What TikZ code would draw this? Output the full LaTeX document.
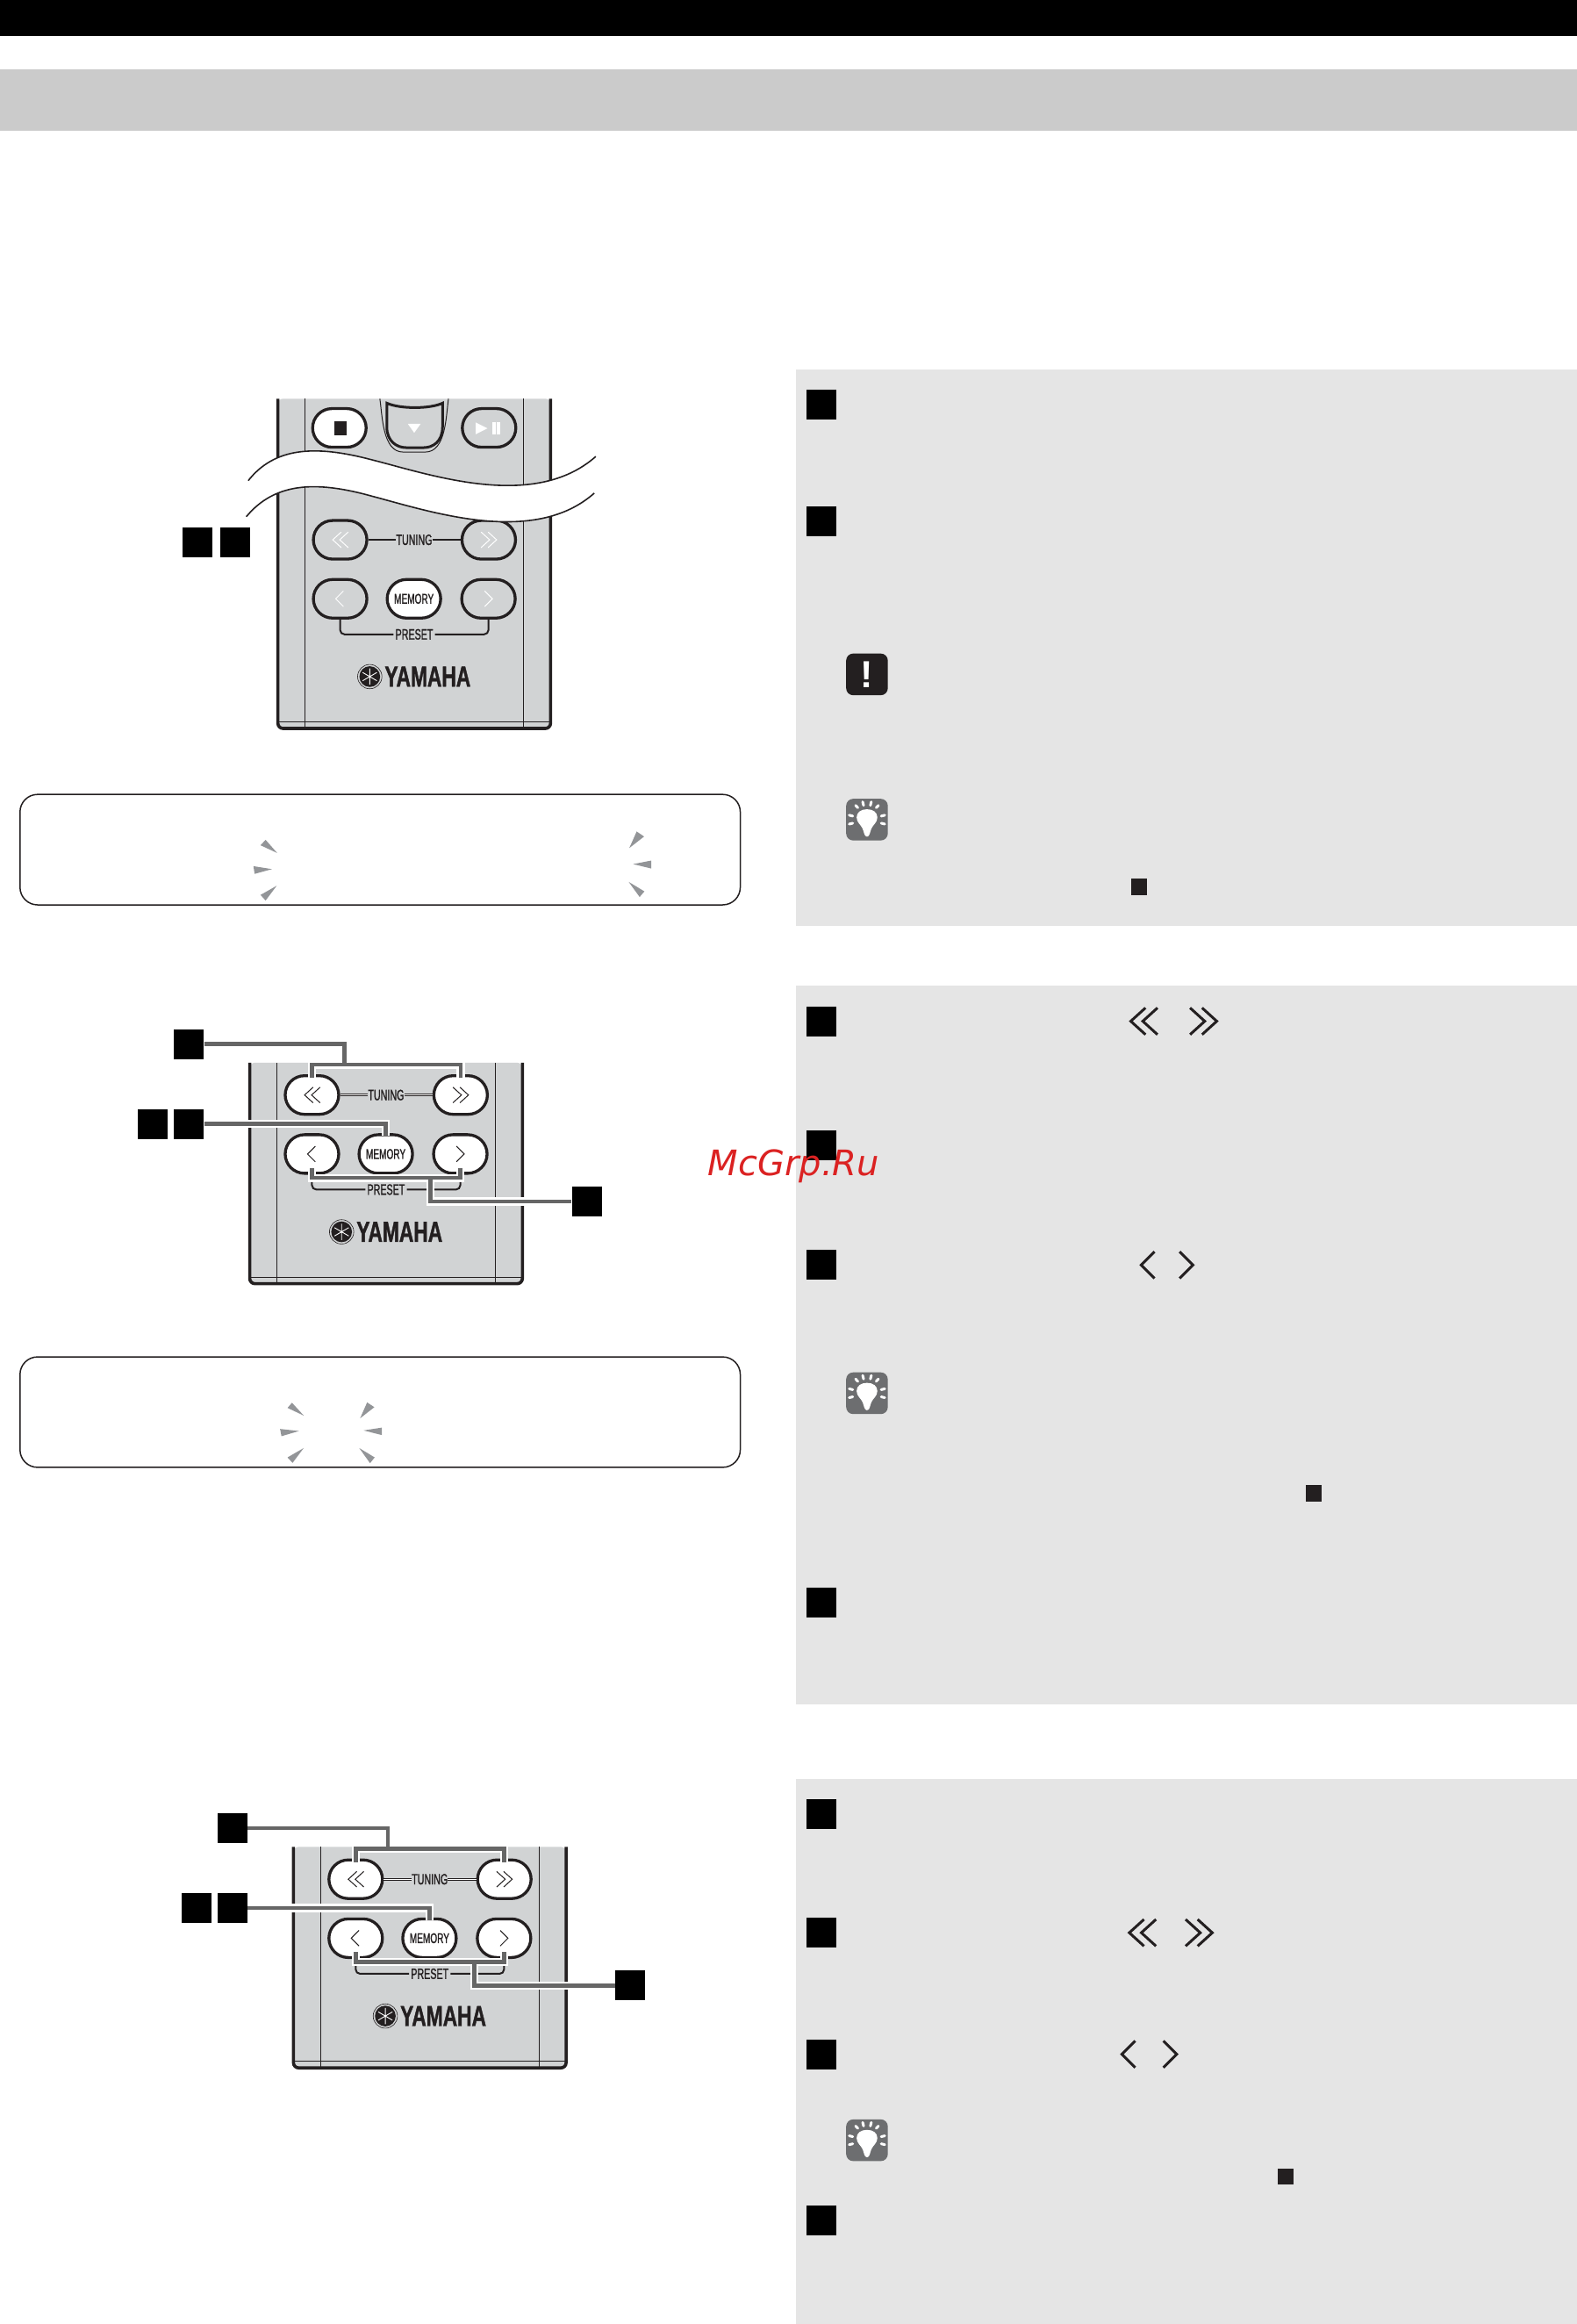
\documentclass[tikz,border=0pt]{standalone}
\usepackage{fontspec}
\setmainfont{Liberation Sans}
\newfontfamily\keyfont[FakeStretch=0.63,FakeBold=1.2]{Liberation Sans}
\newfontfamily\brandfont[FakeStretch=0.69,FakeBold=1.2]{Liberation Sans}
\newfontfamily\markfont{DejaVu Sans}
\definecolor{bandgray}{HTML}{CBCBCB}
\definecolor{panelgray}{HTML}{E5E5E5}
\definecolor{bodygray}{HTML}{D1D3D4}
\definecolor{inkdark}{HTML}{231F20}
\definecolor{flashgray}{HTML}{939598}
\definecolor{tipgray}{HTML}{6D6E70}
\definecolor{leadgray}{HTML}{666666}
\definecolor{markred}{HTML}{DB2222}
\tikzset{
  panel/.style={fill=panelgray},
  dispbox/.style={draw=inkdark,line width=1.5pt,rounded corners=20pt},
  flash/.style={fill=flashgray},
  stepsq/.style={fill=black,inner sep=0pt,minimum width=34pt,minimum height=34pt},
  smallsq/.style={fill=inkdark,inner sep=0pt,minimum size=18.5pt},
  warnbox/.style={fill=inkdark,text=white,inner sep=0pt,minimum size=47.5pt,rounded corners=8pt,font=\fontsize{43}{43}\selectfont\bfseries},
  tipbox/.style={fill=tipgray,inner sep=0pt,minimum size=47.5pt,rounded corners=8pt},
  casing/.style={draw=inkdark,line width=3.6pt,line join=round},
  rule/.style={draw=inkdark,line width=1pt},
  rkey/.style={draw=inkdark,fill=bodygray,line width=3.3pt,inner sep=0pt,minimum width=61pt,minimum height=44pt,rounded corners=22pt},
  whitekey/.style={rkey,fill=white},
  chev/.style={draw=white,line width=1pt},
  keyband/.style={draw=inkdark,line width=2pt},
  tunband/.style={keyband},
  keytext/.style={inner sep=0pt,text=inkdark,font=\fontsize{17}{17}\selectfont\keyfont},
  stepmark/.style={draw=inkdark,line width=3pt,scale=18},
  lead/.style={draw=leadgray,line width=4.4pt,preaction={draw=white,line width=9.5pt}},
  wave/.style={draw=inkdark,line width=1.6pt},
  pics/dblleft/.style={code={
    \draw[pic actions] (.55,-.5) -- (0,0) -- (.55,.5);
    \draw[pic actions] (1,-.5) -- (.45,0) -- (1,.5);}},
  pics/dblright/.style={code={
    \draw[pic actions] (.45,-.5) -- (1,0) -- (.45,.5);
    \draw[pic actions] (0,-.5) -- (.55,0) -- (0,.5);}},
  pics/sglleft/.style={code={\draw[pic actions] (.5,-.5) -- (0,0) -- (.5,.5);}},
  pics/sglright/.style={code={\draw[pic actions] (0,-.5) -- (.5,0) -- (0,.5);}},
  pics/bulb/.style={code={
    \fill[white] (0,11.5) .. controls (-2,11.5) and (-2,8) .. (-3,6)
      .. controls (-4,3.5) and (-7,2) .. (-7,-1.5)
      .. controls (-7,-5) and (-4,-7) .. (0,-7)
      .. controls (4,-7) and (7,-5) .. (7,-1.5)
      .. controls (7,2) and (4,3.5) .. (3,6)
      .. controls (2,8) and (2,11.5) .. (0,11.5) -- cycle;
    \draw[white,line width=3pt,line cap=round]
      (-2.9,-12) -- (-2.3,-9.6) (2.9,-12) -- (2.3,-9.6)
      (-7.7,-9.6) -- (-6.2,-8) (7.7,-9.6) -- (6.2,-8)
      (-12,-3) -- (-9.6,-2.4) (12,-3) -- (9.6,-2.4)
      (-12,3) -- (-9.6,2.4) (12,3) -- (9.6,2.4);}}
}
% lower half of the handset, #1 = top edge of the casing
\newcommand{\handset}[1]{
  \fill[bodygray,rounded corners=6pt] (187.5,#1) -- (187.5,491.5) -- (371.5,491.5) -- (371.5,#1) -- cycle;
  \draw[rule] (206,#1) -- (206,491.5);
  \draw[rule] (353.5,#1) -- (353.5,491.5);
  \draw[rule] (187.5,487) -- (371.5,487);
  \draw[casing,rounded corners=6pt] (187.5,#1) -- (187.5,491.5) -- (371.5,491.5) -- (371.5,#1);
  \node[rkey] (tunl) at (229.5,364.2) {};
  \node[rkey] (tunr) at (329.8,364.2) {};
  \node[rkey] (prel) at (229.5,404) {};
  \node[whitekey] (memo) at (279.3,404) {};
  \node[rkey] (prer) at (329.6,404) {};
  \node[keytext] (tuntext) at (279.5,364.2) {TUNING};
  \node[keytext] (pretext) at (279.5,428) {PRESET};
  \node[keytext,font=\fontsize{16}{16}\selectfont\keyfont] (memtext) at (279.3,404) {MEMORY};
  \draw[tunband] (tunl) -- (tuntext);
  \draw[tunband] (tuntext) -- (tunr);
  \draw[keyband,rounded corners=5pt] (prel.south) |- ([xshift=-2pt]pretext.west);
  \draw[keyband,rounded corners=5pt] (prer.south) |- ([xshift=2pt]pretext.east);
  \pic[chev,scale=10.5] at (224.5,364.2) {dblleft};
  \pic[chev,scale=10.5] at (324.6,364.2) {dblright};
  \pic[chev,scale=10.5] at (226.5,404) {sglleft};
  \pic[chev,scale=10.5] at (327,404) {sglright};
  \fill[inkdark] (249.5,456.5) circle (7);
  \draw[inkdark,line width=.6pt] (249.5,456.5) circle (8.2);
  \draw[white,line width=.9pt] (249.5,451) -- (249.5,462) (244.7,453.7) -- (254.3,459.3) (244.7,459.3) -- (254.3,453.7);
  \node[inner sep=0pt,text=inkdark,font=\fontsize{33}{33}\selectfont\brandfont\bfseries,anchor=west] (brand) at (259.5,456.5) {YAMAHA};
}
% squares and their leaders for the two lower handsets
\newcommand{\leads}{
  \coordinate (forka) at (232.3,718.3);
  \coordinate (forkb) at (290.5,794.8);
  \node[stepsq] (sqa) at (127.5,704.4) {};
  \node[stepsq] (sqb) at (103.1,758.3) {};
  \node[stepsq] (sqc) at (127.5,758.3) {};
  \node[stepsq] (sqd) at (395.9,810.6) {};
  \draw[lead] (sqa) -| (forka)
    ([yshift=-4pt]tunl.north) |- (forka) -| ([yshift=-4pt]tunr.north)
    (sqc) -| ([yshift=-3pt]memo.north)
    ([yshift=8pt]prel.south) |- (forkb) -| ([yshift=8pt]prer.south)
    (forkb) |- (sqd);
}
\begin{document}
\begin{tikzpicture}[x=1.6889pt,y=-1.6889pt]
\useasboundingbox (0,0) rectangle (1064,1568);
% page bands
\fill[black] (0,0) rectangle (1064,24);
\fill[bandgray] (0,47) rectangle (1064,88);
\fill[panel] (537,249) rectangle (1064,625);
\fill[panel] (537,665) rectangle (1064,1150);
\fill[panel] (537,1200) rectangle (1064,1568);
% display boxes
\draw[dispbox] (13.5,536) rectangle (499.5,610.5);
\draw[dispbox] (13.5,915.5) rectangle (499.5,990);
\fill[flash] (175.8,570.3) -- (179.2,566.6) -- (187,575.5) -- cycle;
\fill[flash] (171,584.4) -- (171.8,589.6) -- (183.5,586.4) -- cycle;
\fill[flash] (175.8,603.8) -- (179.2,607.6) -- (186.7,597.6) -- cycle;
\fill[flash] (429.6,561) -- (434.6,564.4) -- (424.6,572.2) -- cycle;
\fill[flash] (439.5,580.6) -- (439.5,586) -- (427.2,583) -- cycle;
\fill[flash] (424.2,595) -- (434.8,601.4) -- (431.6,605.2) -- cycle;
\fill[flash] (194,949.9) -- (197,946.4) -- (205,955.1) -- cycle;
\fill[flash] (189,964.1) -- (189.9,969) -- (201.7,965.5) -- cycle;
\fill[flash] (194,983.3) -- (197.4,987) -- (204.9,977) -- cycle;
\fill[flash] (247.7,946.2) -- (252.6,949.4) -- (243,956.9) -- cycle;
\fill[flash] (257.6,963.2) -- (257.6,968.2) -- (245.3,965.1) -- cycle;
\fill[flash] (242.4,977) -- (252.8,983.3) -- (249.7,987.2) -- cycle;
% top handset
\handset{269}
\node[whitekey] (stopkey) at (229,288.7) {};
\node[rkey] (playkey) at (330,288.7) {};
\draw[inkdark,line width=1pt] (256.3,269) .. controls (258,280) and (258,305) .. (272,305) -- (287,305) .. controls (301,305) and (301,280) .. (302.6,269);
\draw[inkdark,fill=bodygray,line width=3pt] (261,272) .. controls (270,276) and (290,276) .. (298.6,272) -- (298.6,288) .. controls (298.6,298) and (292,302) .. (286,302) -- (274,302) .. controls (268,302) and (261,298) .. (261,288) -- cycle;
\fill[white] (275.2,286) -- (283.8,286) -- (279.5,292) -- cycle;
\fill[inkdark] (225.6,284.5) rectangle (234,293.5);
\fill[white] (321,285) -- (329,289) -- (321,293) -- cycle;
\fill[white] (332.4,285) rectangle (334.5,293);
\fill[white] (335.4,285) rectangle (337.5,293);
\fill[white] (167.5,324.3) .. controls (185,302) and (212,300) .. (250,310) .. controls (290,320) and (360,345) .. (402,308) -- (401,332.7) .. controls (360,369) and (290,345) .. (250,334.5) .. controls (212,324) and (185,326) .. (166.2,348.6) -- cycle;
\draw[wave] (167.5,324.3) .. controls (185,302) and (212,300) .. (250,310) .. controls (290,320) and (360,345) .. (402,308);
\draw[wave] (166.2,348.6) .. controls (185,326) and (212,324) .. (250,334.5) .. controls (290,345) and (360,369) .. (401,332.7);
\node[stepsq] (sqe) at (133.5,366) {};
\node[stepsq] (sqf) at (158.5,366) {};
% second handset
\begin{scope}[shift={(-19,374.6)},name prefix=mid-,rkey/.append style={fill=white},chev/.append style={draw=inkdark},tunband/.append style={double=white,double distance=1.2pt,line width=.9pt}]
\handset{342.4}
\end{scope}
\begin{scope}[name prefix=mid-]
\leads
\end{scope}
% third handset
\begin{scope}[shift={(10.5,903.7)},name prefix=low-,rkey/.append style={fill=white},chev/.append style={draw=inkdark},tunband/.append style={double=white,double distance=1.2pt,line width=.9pt}]
\handset{342.4}
\end{scope}
\begin{scope}[shift={(29.5,529)},name prefix=low-]
\leads
\end{scope}
% step squares in the panels
\node[stepsq] (stepa) at (554,273) {};
\node[stepsq] (stepb) at (554,352) {};
\node[stepsq] (stepc) at (554,689) {};
\node[stepsq] (stepd) at (554,773) {};
\node[stepsq] (stepe) at (554,853) {};
\node[stepsq] (stepf) at (554,1081) {};
\node[stepsq] (stepg) at (554,1224) {};
\node[stepsq] (steph) at (554,1304) {};
\node[stepsq] (stepi) at (554,1386) {};
\node[stepsq] (stepj) at (554,1498) {};
\node[smallsq] (enda) at (768.5,598.5) {};
\node[smallsq] (endb) at (886.5,1007.5) {};
\node[smallsq] (endc) at (867.5,1468.5) {};
% icons
\node[warnbox] (warn) at (585,455) {!};
\node[tipbox] (tipa) at (585,553) {};
\node[tipbox] (tipb) at (585,940) {};
\node[tipbox] (tipc) at (585,1444) {};
\pic at (585,553) {bulb};
\pic at (585,940) {bulb};
\pic at (585,1444) {bulb};
% key marks in the steps
\pic[stepmark] at (763,689) {dblleft};
\pic[stepmark] at (803,689) {dblright};
\pic[stepmark] at (770,853.5) {sglleft};
\pic[stepmark] at (796,853.5) {sglright};
\pic[stepmark] at (762,1304) {dblleft};
\pic[stepmark] at (800,1304) {dblright};
\pic[stepmark] at (757,1386) {sglleft};
\pic[stepmark] at (785,1386) {sglright};
\node[text=markred,inner sep=0pt,anchor=base,font=\fontsize{40}{40}\selectfont\markfont\itshape] (mark) at (535.5,792.9) {McGrp.Ru};
\end{tikzpicture}
\end{document}
